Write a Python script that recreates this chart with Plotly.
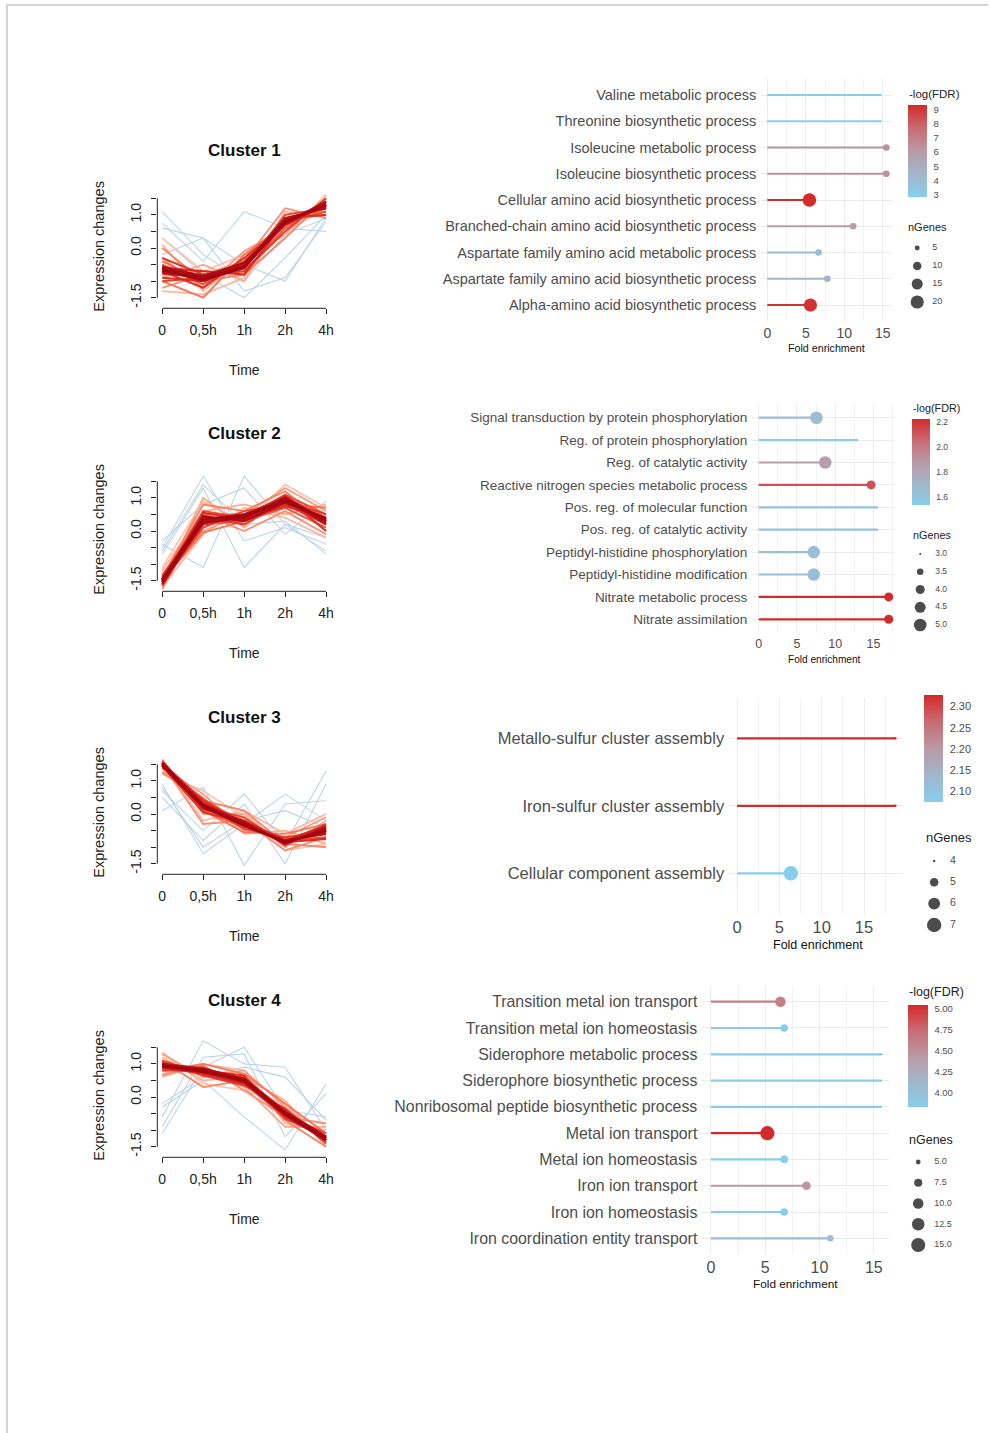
import plotly.graph_objects as go

W, H = 991, 1433
FONT = "Liberation Sans, Arial, sans-serif"


def fx(p):
    return p / W


def fy(p):
    return 1 - p / H


# ---------------- cluster time profiles ----------------
time_points = [1, 2, 3, 4, 5]
time_labels = ["0", "0,5h", "1h", "2h", "4h"]
expr_ticks = [-1.5, -1.0, -0.5, 0.0, 0.5, 1.0, 1.5]
expr_ticktext = ["-1.5", "", "", "0.0", "", "1.0", ""]

membership = [0.10, 0.12, 0.14, 0.16, 0.18,
              0.36, 0.40, 0.43, 0.46, 0.49, 0.52, 0.55, 0.58,
              0.62, 0.65, 0.68, 0.70, 0.72, 0.74, 0.76, 0.78,
              0.82, 0.85, 0.87, 0.89, 0.91, 0.93, 0.95, 0.97]

cluster1_profiles = [
    [1.1, -0.2, -1.0, 0.4, 0.9], [0.75, -0.4, 1.1, 0.6, 0.5], [0.6, 0.3, -1.3, -0.9, 0.8],
    [-0.2, 0.3, -0.5, -1.0, 0.9], [0.3, -0.8, -1.5, -0.3, 1.0],
    [0.3, -0.7, -0.2, 0.5, 1.2], [-1.3, -1.4, -0.9, 1.1, 1.0], [0.1, -1.3, -0.3, 0.4, 1.6],
    [-0.9, -0.5, -1.0, 0.9, 1.1], [-0.3, -1.2, -0.1, 0.6, 1.4], [-1.2, -0.8, -0.4, 1.2, 0.9],
    [0.0, -1.0, -0.8, 0.3, 1.5], [-1.0, -1.5, -0.2, 0.7, 1.2],
    [-0.4, -1.0, -0.5, 0.9, 1.2], [-0.8, -0.8, -0.7, 0.6, 1.4], [-0.5, -1.1, -0.4, 0.8, 1.1],
    [-1.0, -0.9, -0.6, 1.0, 1.2], [-0.3, -0.8, -0.7, 0.5, 1.5], [-0.7, -1.2, -0.3, 0.7, 1.3],
    [-0.9, -1.0, -0.5, 0.9, 1.0], [-0.6, -0.7, -0.8, 0.8, 1.3],
    [-0.6, -0.9, -0.5, 0.75, 1.3], [-0.7, -0.95, -0.6, 0.85, 1.25], [-0.55, -0.85, -0.5, 0.7, 1.35],
    [-0.75, -0.9, -0.6, 0.8, 1.25], [-0.65, -1.0, -0.55, 0.9, 1.2], [-0.6, -0.85, -0.45, 0.75, 1.4],
    [-0.7, -0.9, -0.55, 0.8, 1.3], [-0.65, -0.95, -0.6, 0.8, 1.3],
]

cluster2_profiles = [
    [-0.5, 1.65, -0.3, 0.1, -0.4], [-0.6, 1.4, 0.2, 0.3, -0.7], [-0.4, -1.1, 1.65, 0.2, -0.2],
    [-0.7, 1.3, -1.1, 0.2, -0.6], [-0.3, 0.8, 1.3, -0.1, 0.9],
    [-1.1, 0.9, 0.2, 1.4, 0.7], [-1.7, -0.1, 0.7, 0.4, -0.2], [-1.2, 0.6, 0.8, 0.5, 0.8],
    [-1.6, 1.0, 0.1, 1.1, 0.0], [-1.3, 0.0, 0.5, 1.3, 0.6], [-1.75, 0.5, 0.0, 0.6, -0.1],
    [-1.4, 0.8, 0.6, 1.2, 0.2], [-1.5, -0.05, 0.3, 0.8, 0.7],
    [-1.4, 0.5, 0.5, 1.0, 0.4], [-1.6, 0.2, 0.3, 0.7, 0.1], [-1.45, 0.6, 0.4, 1.1, 0.5],
    [-1.55, 0.1, 0.6, 0.8, 0.2], [-1.35, 0.4, 0.2, 0.9, 0.5], [-1.65, 0.3, 0.5, 1.0, 0.0],
    [-1.5, 0.55, 0.35, 0.75, 0.4], [-1.45, 0.2, 0.45, 1.05, 0.3],
    [-1.5, 0.35, 0.4, 0.9, 0.3], [-1.55, 0.3, 0.45, 0.95, 0.25], [-1.45, 0.4, 0.35, 0.85, 0.35],
    [-1.5, 0.3, 0.4, 0.9, 0.3], [-1.6, 0.35, 0.5, 0.95, 0.2], [-1.5, 0.45, 0.3, 0.85, 0.4],
    [-1.55, 0.25, 0.4, 1.0, 0.3], [-1.45, 0.35, 0.45, 0.9, 0.35],
]

cluster3_profiles = [
    [0.9, -1.2, -0.3, 0.6, -0.2], [0.7, -0.5, 0.6, -0.9, 1.3], [0.1, 0.8, -1.55, 0.3, 0.4],
    [0.5, -0.8, 0.3, -1.5, 0.9], [0.8, -1.0, -0.2, 0.1, -0.4],
    [1.2, 0.7, -0.1, -1.1, -0.9], [1.6, -0.2, 0.1, -0.6, 0.0], [1.3, 0.5, -0.6, -0.5, -0.9],
    [1.65, 0.0, 0.0, -1.0, -0.2], [1.4, 0.6, -0.5, -0.7, -0.1], [1.5, -0.3, -0.2, -1.1, -0.7],
    [1.25, 0.4, 0.1, -0.9, -1.0], [1.6, 0.1, -0.55, -0.6, -0.3],
    [1.45, 0.35, -0.2, -0.9, -0.4], [1.55, 0.1, -0.4, -0.75, -0.6], [1.4, 0.45, -0.3, -0.8, -0.7],
    [1.6, 0.2, -0.1, -0.95, -0.3], [1.5, 0.3, -0.45, -0.7, -0.55], [1.45, 0.05, -0.25, -0.9, -0.45],
    [1.55, 0.4, -0.35, -0.85, -0.75], [1.5, 0.15, -0.2, -0.8, -0.35],
    [1.5, 0.25, -0.3, -0.85, -0.5], [1.55, 0.2, -0.35, -0.8, -0.55], [1.45, 0.3, -0.25, -0.9, -0.45],
    [1.5, 0.2, -0.3, -0.85, -0.5], [1.5, 0.3, -0.35, -0.8, -0.6], [1.55, 0.25, -0.25, -0.9, -0.4],
    [1.45, 0.2, -0.3, -0.85, -0.5], [1.5, 0.25, -0.35, -0.85, -0.5],
]

cluster4_profiles = [
    [-1.1, 0.9, 1.5, -0.4, -0.6], [-0.6, 1.7, 1.0, 0.9, -1.0], [-0.3, 0.5, -0.6, -1.6, 0.4],
    [-0.9, 1.2, 1.3, -1.2, 0.1], [-0.2, 0.6, 0.9, 0.6, -0.7],
    [1.35, 0.4, 0.2, -0.2, -1.4], [0.6, 1.0, 0.8, -0.8, -1.0], [1.2, 0.5, 0.6, -0.1, -1.5],
    [0.7, 0.9, 0.3, -0.9, -0.9], [1.3, 0.6, 0.8, -0.3, -1.3], [0.65, 0.95, 0.2, -0.6, -0.8],
    [1.1, 0.3, 0.5, -0.7, -1.5], [0.8, 1.0, 0.7, -0.2, -1.1],
    [1.0, 0.75, 0.55, -0.4, -1.3], [0.85, 0.85, 0.4, -0.6, -1.2], [1.1, 0.7, 0.6, -0.45, -1.35],
    [0.9, 0.9, 0.45, -0.55, -1.1], [1.05, 0.65, 0.35, -0.35, -1.4], [0.8, 0.8, 0.65, -0.65, -1.2],
    [1.0, 0.85, 0.5, -0.5, -1.3], [0.9, 0.7, 0.4, -0.4, -1.25],
    [0.95, 0.8, 0.5, -0.5, -1.25], [1.0, 0.85, 0.55, -0.55, -1.3], [0.9, 0.75, 0.45, -0.45, -1.2],
    [0.95, 0.8, 0.5, -0.5, -1.25], [1.0, 0.8, 0.45, -0.55, -1.3], [0.9, 0.85, 0.55, -0.45, -1.2],
    [0.95, 0.75, 0.5, -0.5, -1.3], [0.95, 0.8, 0.5, -0.5, -1.25],
]

cluster_names = ["Cluster 1", "Cluster 2", "Cluster 3", "Cluster 4"]
cluster_profiles = [cluster1_profiles, cluster2_profiles, cluster3_profiles, cluster4_profiles]

# ---------------- GO enrichment tables ----------------
terms1 = ["Valine metabolic process", "Threonine biosynthetic process",
          "Isoleucine metabolic process", "Isoleucine biosynthetic process",
          "Cellular amino acid biosynthetic process",
          "Branched-chain amino acid biosynthetic process",
          "Aspartate family amino acid metabolic process",
          "Aspartate family amino acid biosynthetic process",
          "Alpha-amino acid biosynthetic process"]
fold1 = [14.7, 14.7, 15.45, 15.45, 5.47, 11.15, 6.65, 7.8, 5.6]
fdr1 = [2.85, 2.85, 6.4, 6.4, 9.3, 5.9, 4.2, 4.5, 9.1]
ngenes1 = [3, 3, 7, 7, 21, 7, 7, 7, 20]
fdr_ticks1 = [3, 4, 5, 6, 7, 8, 9]
size_breaks1 = [5, 10, 15, 20]
size_labels1 = ["5", "10", "15", "20"]

terms2 = ["Signal transduction by protein phosphorylation",
          "Reg. of protein phosphorylation", "Reg. of catalytic activity",
          "Reactive nitrogen species metabolic process",
          "Pos. reg. of molecular function", "Pos. reg. of catalytic activity",
          "Peptidyl-histidine phosphorylation", "Peptidyl-histidine modification",
          "Nitrate metabolic process", "Nitrate assimilation"]
fold2 = [7.55, 12.9, 8.7, 14.7, 15.5, 15.5, 7.2, 7.2, 17.0, 17.0]
fdr2 = [1.66, 1.536, 1.85, 2.12, 1.63, 1.63, 1.64, 1.64, 2.224, 2.224]
ngenes2 = [5, 3, 5, 4, 3, 3, 5, 5, 4, 4]
fdr_ticks2 = [1.6, 1.8, 2.0, 2.2]
size_breaks2 = [3.0, 3.5, 4.0, 4.5, 5.0]
size_labels2 = ["3.0", "3.5", "4.0", "4.5", "5.0"]

terms3 = ["Metallo-sulfur cluster assembly", "Iron-sulfur cluster assembly",
          "Cellular component assembly"]
fold3 = [18.7, 18.7, 6.35]
fdr3 = [2.327, 2.327, 2.075]
ngenes3 = [4, 4, 7]
fdr_ticks3 = [2.10, 2.15, 2.20, 2.25, 2.30]
size_breaks3 = [4, 5, 6, 7]
size_labels3 = ["4", "5", "6", "7"]

terms4 = ["Transition metal ion transport", "Transition metal ion homeostasis",
          "Siderophore metabolic process", "Siderophore biosynthetic process",
          "Nonribosomal peptide biosynthetic process", "Metal ion transport",
          "Metal ion homeostasis", "Iron ion transport", "Iron ion homeostasis",
          "Iron coordination entity transport"]
fold4 = [6.4, 6.75, 15.65, 15.65, 15.65, 5.2, 6.75, 8.8, 6.75, 11.0]
fdr4 = [4.6, 3.83, 3.83, 3.83, 3.83, 5.04, 3.83, 4.45, 3.83, 4.05]
ngenes4 = [10, 7, 4, 4, 4, 15, 7, 8, 7, 6]
fdr_ticks4 = [4.00, 4.25, 4.50, 4.75, 5.00]
size_breaks4 = [5.0, 7.5, 10.0, 12.5, 15.0]
size_labels4 = ["5.0", "7.5", "10.0", "12.5", "15.0"]

# ---------------- colour helpers ----------------
MEMBERSHIP_SCALE = [(0.0, "#c4d9ec"), (0.25, "#b6d0e6"), (0.3, "#fdd3c1"),
                    (0.45, "#fca98c"), (0.6, "#f56f50"), (0.75, "#dd2e20"),
                    (0.88, "#bd141b"), (1.0, "#98000d")]
FDR_SCALE = [(0.0, "#87ceeb"), (0.25, "#a2b6cb"), (0.5, "#b99aa6"),
             (0.75, "#c96b73"), (1.0, "#d42a2a")]


def _rgb(h):
    h = h.lstrip("#")
    return [int(h[i:i + 2], 16) for i in (0, 2, 4)]


def scale_colour(scale, t):
    t = min(max(t, 0.0), 1.0)
    for (p0, c0), (p1, c1) in zip(scale[:-1], scale[1:]):
        if t <= p1:
            f = 0 if p1 == p0 else (t - p0) / (p1 - p0)
            a, b = _rgb(c0), _rgb(c1)
            r = [round(a[i] + (b[i] - a[i]) * f) for i in range(3)]
            return "rgb(%d,%d,%d)" % tuple(r)
    return scale[-1][1]


def dot_size(n, nmin, nmax, k):
    return k * (1 + 35 * (n - nmin) / (nmax - nmin)) ** 0.5


def line_width(m):
    # genes with a stronger membership are drawn with a heavier stroke
    return 1.1 if m < 0.3 else 1.6 + 1.0 * (m - 0.3)


def label(text, x, y, size, color="#222", anchor="center", angle=0):
    return dict(text=text, xref="paper", yref="paper", x=fx(x), y=fy(y),
                xanchor=anchor, yanchor="middle", textangle=angle, showarrow=False,
                font=dict(size=size, color=color))


fig = go.Figure()
layout = dict(
    width=W, height=H, margin=dict(l=0, r=0, t=0, b=0),
    paper_bgcolor="white", plot_bgcolor="white", showlegend=False,
    hovermode=False, font=dict(family=FONT, color="#222"),
)
annotations = []
shapes = []

# page frame
shapes.append(dict(type="line", xref="paper", yref="paper", x0=fx(6), x1=1,
                   y0=fy(5), y1=fy(5), line=dict(color="#d4d4d4", width=2)))
shapes.append(dict(type="line", xref="paper", yref="paper", x0=fx(7), x1=fx(7),
                   y0=fy(4), y1=0, line=dict(color="#d4d4d4", width=2)))

ax = 0


def next_axes():
    global ax
    ax += 1
    s = "" if ax == 1 else str(ax)
    return ax, "x" + s, "y" + s, "xaxis" + s, "yaxis" + s


# ---------------- left column: cluster profiles ----------------
for k, (name, profiles) in enumerate(zip(cluster_names, cluster_profiles)):
    off = 283 * k
    n, xr, yr, xk, yk = next_axes()
    for prof, m in zip(profiles, membership):
        fig.add_trace(go.Scatter(
            x=time_points, y=prof, mode="lines", xaxis=xr, yaxis=yr,
            line=dict(color=scale_colour(MEMBERSHIP_SCALE, m), width=line_width(m)),
            hoverinfo="skip"))
    layout[xk] = dict(domain=[fx(157.8), fx(332)], range=[0.88, 5.12], anchor=yr,
                      tickvals=time_points, ticktext=time_labels, ticks="outside",
                      ticklen=5, tickwidth=1, tickcolor="#222", showgrid=False,
                      zeroline=False, showline=False, ticklabelstandoff=4,
                      tickfont=dict(size=14, color="#222"))
    layout[yk] = dict(domain=[fy(308.3 + off), fy(187.7 + off)], range=[-1.82, 1.82],
                      anchor=xr, tickvals=expr_ticks, ticktext=expr_ticktext,
                      tickangle=-90, ticks="outside", ticklen=5, tickwidth=1,
                      tickcolor="#222", showgrid=False, zeroline=False, showline=False,
                      ticklabelstandoff=5, tickfont=dict(size=14, color="#222"))
    shapes.append(dict(type="line", xref=xr, yref=yr + " domain", x0=1, x1=5, y0=0, y1=0,
                       line=dict(color="#222", width=1)))
    shapes.append(dict(type="line", xref=xr + " domain", yref=yr, x0=0, x1=0, y0=-1.5, y1=1.5,
                       line=dict(color="#222", width=1)))
    annotations.append(label("<b>%s</b>" % name, 245, 151 + off, 17, "#111"))
    annotations.append(label("Time", 245, 370 + off, 14))
    annotations.append(label("Expression changes", 99, 246 + off, 14.5, angle=-90))

# ---------------- right column: lollipop panels ----------------
panels = [
    dict(terms=terms1, fold=fold1, fdr=fdr1, ngenes=ngenes1, fdr_ticks=fdr_ticks1,
         breaks=size_breaks1, blabels=size_labels1, k=2.25, fmt="d",
         zero=769.6, ppu=7.73, cat0=95, cat1=305, label_font=14.5, tick_font=14,
         fe=(829, 348), fe_font=10.7,
         cb=dict(x=911, top=105, bottom=197, thick=19, font=9.5), cb_title=(910, 94, 11.5),
         leg=dict(dot_x=920, lab_x=935, ys=[248, 266, 284, 302], font=9),
         leg_title=(909, 227, 11)),
    dict(terms=terms2, fold=fold2, fdr=fdr2, ngenes=ngenes2, fdr_ticks=fdr_ticks2,
         breaks=size_breaks2, blabels=size_labels2, k=2.1, fmt=".1f",
         zero=761, ppu=7.67, cat0=417.7, cat1=619.3, label_font=13.5, tick_font=12.5,
         fe=(827, 659), fe_font=10.1,
         cb=dict(x=915, top=419, bottom=505, thick=18, font=8.5), cb_title=(914, 408, 10.8),
         leg=dict(dot_x=923, lab_x=938, ys=[554, 572, 590, 607, 625], font=8.5),
         leg_title=(914, 535, 10.8)),
    dict(terms=terms3, fold=fold3, fdr=fdr3, ngenes=ngenes3, fdr_ticks=fdr_ticks3,
         breaks=size_breaks3, blabels=size_labels3, k=2.4, fmt=".2f",
         zero=739.3, ppu=8.49, cat0=738.3, cat1=873.3, label_font=16.5, tick_font=16.5,
         fe=(820, 945), fe_font=12.5,
         cb=dict(x=927, top=695, bottom=802, thick=19, font=11), cb_title=None,
         leg=dict(dot_x=937, lab_x=953, ys=[861, 883, 904, 925], font=10.5),
         leg_title=(927, 837, 13)),
    dict(terms=terms4, fold=fold4, fdr=fdr4, ngenes=ngenes4, fdr_ticks=fdr_ticks4,
         breaks=size_breaks4, blabels=size_labels4, k=2.35, fmt=".2f",
         zero=713, ppu=10.9, cat0=1001.7, cat1=1238.3, label_font=15.9, tick_font=16,
         fe=(798, 1284), fe_font=11.8,
         cb=dict(x=911, top=1005, bottom=1107, thick=20, font=9.5), cb_title=(910, 992, 12.5),
         leg=dict(dot_x=921, lab_x=937, ys=[1162, 1183, 1204, 1225, 1245], font=9),
         leg_title=(910, 1140, 12.5)),
]

for i, p in enumerate(panels):
    n_, xr, yr, xk, yk = next_axes()
    terms, fold, fdr, ng = p["terms"], p["fold"], p["fdr"], p["ngenes"]
    ncat = len(terms)
    cmin, cmax = min(fdr), max(fdr)
    nmin, nmax = min(ng), max(ng)
    caxis = "coloraxis" if i == 0 else "coloraxis%d" % (i + 1)

    for t, f, q in zip(terms, fold, fdr):
        fig.add_trace(go.Scatter(
            x=[0, f], y=[t, t], mode="lines", xaxis=xr, yaxis=yr, hoverinfo="skip",
            line=dict(color=scale_colour(FDR_SCALE, (q - cmin) / (cmax - cmin)), width=2.2)))
    fig.add_trace(go.Scatter(
        x=fold, y=terms, mode="markers", xaxis=xr, yaxis=yr, hoverinfo="skip",
        marker=dict(size=[dot_size(v, nmin, nmax, p["k"]) for v in ng], color=fdr,
                    coloraxis=caxis, line=dict(width=0), opacity=1)))

    xmax = max(fold) * 1.05
    xmin = -max(fold) * 0.05
    left = p["zero"] + xmin * p["ppu"]
    right = p["zero"] + xmax * p["ppu"]
    step = (p["cat1"] - p["cat0"]) / (ncat - 1)
    top = p["cat0"] - 0.6 * step
    bottom = p["cat1"] + 0.6 * step
    layout[xk] = dict(domain=[fx(left), fx(right)], range=[xmin, xmax], anchor=yr,
                      tickvals=[0, 5, 10, 15], ticks="", showline=False, zeroline=False,
                      showgrid=True, gridcolor="#ebebeb", gridwidth=1,
                      minor=dict(dtick=2.5, tick0=0, showgrid=True, gridcolor="#f3f3f3",
                                 gridwidth=0.7),
                      tickfont=dict(size=p["tick_font"], color="#4d4d4d"),
                      ticklabelstandoff=2)
    layout[yk] = dict(domain=[fy(bottom), fy(top)], anchor=xr, type="category",
                      categoryorder="array", categoryarray=terms,
                      range=[ncat - 0.4, -0.6], ticks="", showline=False, zeroline=False,
                      showgrid=True, gridcolor="#ebebeb", gridwidth=1,
                      tickfont=dict(size=p["label_font"], color="#4d4d4d"),
                      ticklabelstandoff=4)
    annotations.append(label("Fold enrichment", p["fe"][0], p["fe"][1], p["fe_font"], "#111"))

    cb = p["cb"]
    layout[caxis] = dict(
        cmin=cmin, cmax=cmax, colorscale=[[a, c] for a, c in FDR_SCALE],
        colorbar=dict(x=fx(cb["x"]), xanchor="left", y=fy(cb["top"]), yanchor="top",
                      len=cb["bottom"] - cb["top"], lenmode="pixels",
                      thickness=cb["thick"], thicknessmode="pixels", xpad=0, ypad=0,
                      outlinewidth=0, tickvals=p["fdr_ticks"], ticks="outside",
                      ticklen=5, tickcolor="white", tickwidth=1, tickformat=p["fmt"],
                      tickfont=dict(size=cb["font"], color="#4d4d4d")))
    if p["cb_title"]:
        cx, cy, cs = p["cb_title"]
        annotations.append(label("-log(FDR)", cx, cy, cs, anchor="left"))

    # size legend (nGenes)
    leg = p["leg"]
    n_, lxr, lyr, lxk, lyk = next_axes()
    nb = len(p["breaks"])
    lstep = (leg["ys"][-1] - leg["ys"][0]) / (nb - 1)
    layout[lxk] = dict(domain=[fx(leg["dot_x"] - 12), fx(leg["dot_x"] + 48)], range=[-12, 48],
                       anchor=lyr, visible=False)
    layout[lyk] = dict(domain=[fy(leg["ys"][-1] + lstep / 2), fy(leg["ys"][0] - lstep / 2)],
                       range=[nb - 0.5, -0.5], anchor=lxr, visible=False)
    fig.add_trace(go.Scatter(
        x=[0] * nb, y=list(range(nb)), mode="markers", xaxis=lxr, yaxis=lyr, hoverinfo="skip",
        marker=dict(size=[dot_size(v, nmin, nmax, p["k"]) for v in p["breaks"]],
                    color="black", line=dict(width=0))))
    fig.add_trace(go.Scatter(
        x=[leg["lab_x"] - leg["dot_x"]] * nb, y=list(range(nb)), mode="text",
        text=p["blabels"], textposition="middle right", xaxis=lxr, yaxis=lyr,
        hoverinfo="skip", textfont=dict(size=leg["font"], color="#4d4d4d")))
    tx, ty, ts = p["leg_title"]
    annotations.append(label("nGenes", tx, ty, ts, anchor="left"))

layout["annotations"] = annotations
layout["shapes"] = shapes
fig.update_layout(**layout)
fig.write_html("out.html")
